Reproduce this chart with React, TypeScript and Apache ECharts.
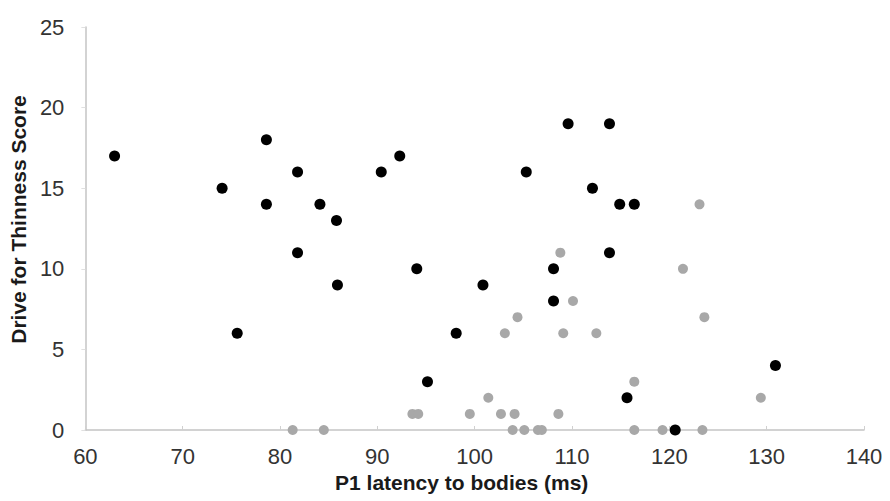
import React, { useEffect, useRef } from "react";
import * as echarts from "echarts";

const blackX = [63.0, 74.05, 75.6, 78.6, 78.6, 81.8, 81.8, 84.1, 85.8, 85.9, 90.4, 92.3, 94.05, 95.15, 98.1, 100.85, 105.3, 108.1, 108.1, 109.6, 112.1, 113.85, 113.85, 114.9, 116.4, 115.65, 120.6, 130.9];
const blackY = [17, 15, 6, 18, 14, 16, 11, 14, 13, 9, 16, 17, 10, 3, 6, 9, 16, 10, 8, 19, 15, 19, 11, 14, 14, 2, 0, 4];

const grayX = [81.3, 84.5, 93.6, 94.2, 99.5, 101.4, 102.7, 103.1, 103.9, 104.1, 104.4, 105.1, 106.5, 106.9, 108.6, 108.8, 109.1, 110.1, 112.5, 116.4, 116.4, 119.3, 121.4, 123.1, 123.6, 123.4, 129.4];
const grayY = [0, 0, 1, 1, 1, 2, 1, 6, 0, 1, 7, 0, 0, 0, 1, 11, 6, 8, 6, 3, 0, 0, 10, 14, 7, 0, 2];

const xTitle = "P1 latency to bodies (ms)";
const yTitle = "Drive for Thinness Score";

export default function App() {
  const ref = useRef<HTMLDivElement>(null);
  useEffect(() => {
    if (!ref.current) return;
    const chart = echarts.init(ref.current, null, { renderer: "svg" });
    const font = "Liberation Sans, Arial, sans-serif";
    chart.setOption({
      animation: false,
      backgroundColor: "#ffffff",
      grid: { left: 84, right: 26, top: 27, bottom: 71 },
      xAxis: {
        type: "value",
        min: 60,
        max: 140,
        interval: 10,
        name: xTitle,
        nameLocation: "middle",
        nameGap: 41,
        nameTextStyle: { fontFamily: font, fontSize: 21, fontWeight: "bold", color: "#1a1a1a", padding: [0, 26, 0, 0] },
        axisLine: { show: true, lineStyle: { color: "#c4c4c4", width: 1.5 } },
        axisTick: { show: true, inside: true, length: 4, lineStyle: { color: "#d0d0d0" } },
        axisLabel: { fontFamily: font, fontSize: 22, color: "#333333", margin: 15 },
        splitLine: { show: false },
      },
      yAxis: {
        type: "value",
        min: 0,
        max: 25,
        interval: 5,
        name: yTitle,
        nameLocation: "middle",
        nameGap: 50,
        nameRotate: 90,
        nameTextStyle: { fontFamily: font, fontSize: 21, fontWeight: "bold", color: "#1a1a1a", padding: [0, 0, 0, 18] },
        axisLine: { show: true, lineStyle: { color: "#c4c4c4", width: 1.5 } },
        axisTick: { show: true, length: 4, lineStyle: { color: "#e0e0e0" } },
        axisLabel: { fontFamily: font, fontSize: 22, color: "#333333", margin: 21 },
        splitLine: { show: false },
      },
      series: [
        {
          type: "scatter",
          name: "gray",
          symbolSize: 10,
          itemStyle: { color: "#a8a8a8", opacity: 1 },
          data: grayX.map((x, i) => [x, grayY[i]]),
          z: 2,
        },
        {
          type: "scatter",
          name: "black",
          symbolSize: 11,
          itemStyle: { color: "#000000", opacity: 1 },
          data: blackX.map((x, i) => [x, blackY[i]]),
          z: 3,
        },
      ],
    });
    return () => chart.dispose();
  }, []);
  return <div ref={ref} style={{ width: 890, height: 501, position: "absolute", left: 0, top: 0 }} />;
}
